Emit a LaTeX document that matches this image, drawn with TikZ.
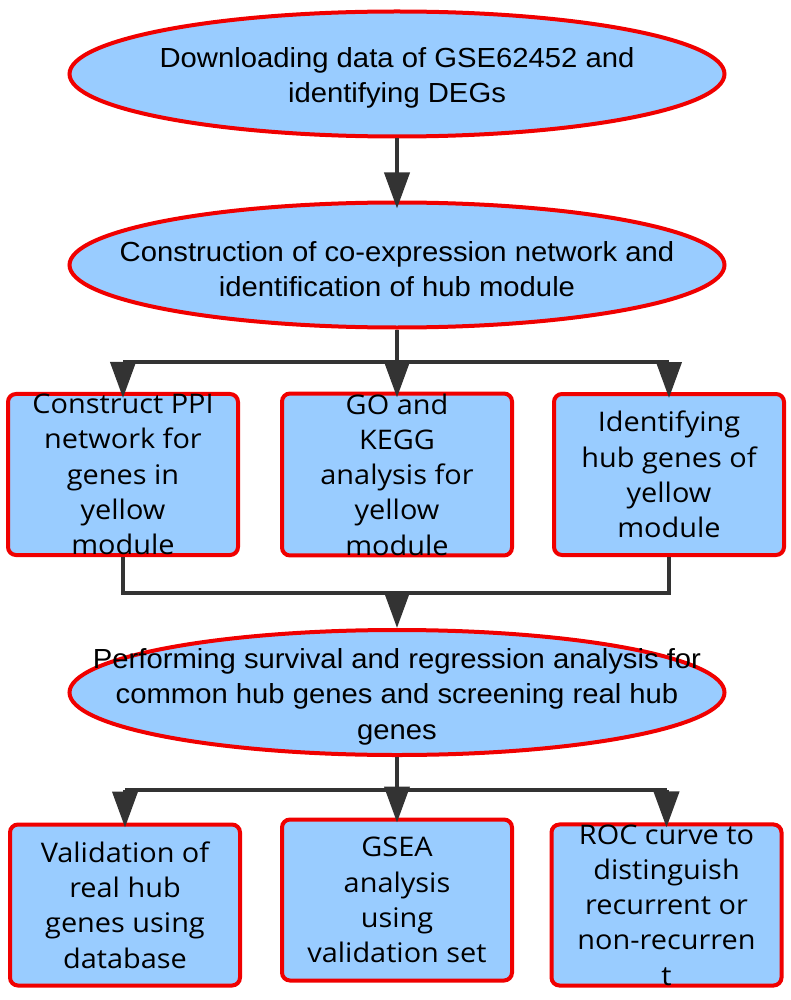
\documentclass[tikz,border=0pt]{standalone}
\usepackage{fontspec}
\setmainfont[FakeStretch=1.06]{Liberation Sans}
\newfontfamily\boxfont[FakeStretch=1.07]{Open Sans}
\usetikzlibrary{shapes.geometric,arrows.meta}
\definecolor{fillblue}{HTML}{99CCFF}
\definecolor{bordred}{HTML}{F00000}
\definecolor{linegray}{HTML}{333333}
\begin{document}
\begin{tikzpicture}[x=1pt,y=-1pt,
 ell/.style={ellipse, draw=bordred, fill=fillblue, line width=4pt, minimum width=655pt, minimum height=125pt, inner sep=0pt},
 elltext/.style={align=center, inner sep=0pt, yshift=-4pt, font=\fontsize{27.6}{35.5}\selectfont},
 stepbox/.style={rectangle, rounded corners=8pt, draw=bordred, fill=fillblue, line width=4pt, minimum width=230pt, minimum height=161pt, inner sep=0pt, align=center, font=\boxfont\fontsize{27}{35.3}\selectfont},
 conn/.style={draw=linegray, line width=4pt},
 arr/.style={conn, -{Triangle[length=36pt,width=25pt]}}
]
\useasboundingbox (0,0) rectangle (790,1000);
\node[ell] (e1) at (397,74) {};
\node[elltext] (e1t) at (e1) {Downloading data of GSE62452 and\\identifying DEGs};
\node[ell] (e2) at (397,265) {};
\node[elltext] (e2t) at (e2) {Construction of co-expression network and\\identification of hub module};
\node[stepbox] (b1) at (123,474.5) {Construct PPI\\network for\\genes in\\yellow\\module};
\node[stepbox] (b2) at (397,474.5) {GO and\\KEGG\\analysis for\\yellow\\module};
\node[stepbox] (b3) at (669,474.5) {Identifying\\hub genes of\\yellow\\module};
\node[ell] (e3) at (397,692.5) {};
\node[elltext] (e3t) at (e3) {Performing survival and regression analysis for\\common hub genes and screening real hub\\genes};
\node[stepbox] (c1) at (125,905) {Validation of\\real hub\\genes using\\database};
\node[stepbox] (c2) at (397,900) {GSEA\\analysis\\using\\validation set};
\node[stepbox] (c3) at (666.5,905) {ROC curve to\\distinguish\\recurrent or\\non-recurren\\t};
\coordinate (j1) at (397,362);
\coordinate (j2) at (397,593);
\coordinate (j3) at (397,790);
% e1 -> e2
\draw[arr, shorten >=-8pt] (e1.south) -- (e2.north);
% e2 -> row 1
\draw[conn] (e2.south) -- (j1);
\draw[conn] (b1.north |- j1) -- (b3.north |- j1);
\draw[arr, shorten >=-6pt] (b1.north |- j1) -- (b1.north);
\draw[arr, shorten >=-6pt] (j1) -- (b2.north);
\draw[arr, shorten >=-6pt] (b3.north |- j1) -- (b3.north);
% row 1 -> e3
\draw[conn] (b1.south) -- (b1.south |- j2) -- (b3.south |- j2) -- (b3.south);
\draw[arr] (j2) -- (e3.north);
% e3 -> row 2
\draw[conn] (e3.south) -- (j3);
\draw[conn] (c1.north |- j3) -- (c3.north |- j3);
\draw[arr, shorten >=-5pt] (c1.north |- j3) -- (c1.north);
\draw[arr, shorten >=-5pt] (j3) -- (c2.north);
\draw[arr, shorten >=-5pt] (c3.north |- j3) -- (c3.north);
\end{tikzpicture}
\end{document}
